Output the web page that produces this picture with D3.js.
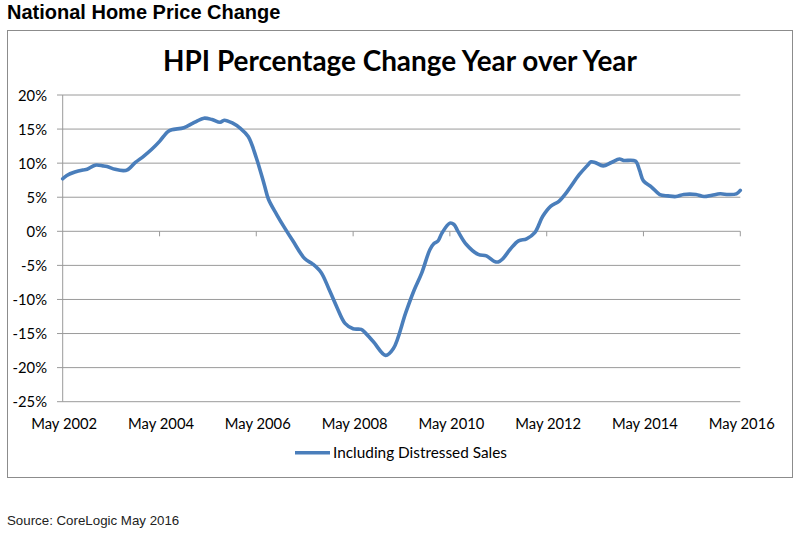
<!DOCTYPE html>
<html><head><meta charset="utf-8">
<script src="https://cdn.jsdelivr.net/npm/d3@7"></script>
<style>body{margin:0;background:#fff}svg{display:block}</style>
</head><body>
<svg id="c" width="801" height="534"></svg>
<script>
// months since May 2002
const monthOffsets = [0,1,3,5,6,8,10,11,13,15,16,18,20,22,24,26,27,30,32,33,35,37,39,40,42,44,46,48,50,51,53,55,57,60,62,64,66,68,70,72,74,75,77,80,82,85,87,89,91,92,93,94,96,97,98,100,103,105,107,108,109,111,113,115,117,119,121,123,125,128,130,131,132,134,136,138,139,142,143,144,146,148,150,152,154,157,159,161,163,165,167,168];
const hpiValues = [7.7,8.2,8.7,9.0,9.1,9.7,9.6,9.5,9.1,8.9,9.0,10.1,11.0,12.0,13.2,14.6,14.9,15.2,15.8,16.1,16.6,16.4,16.0,16.3,15.9,15.1,13.9,10.8,6.8,4.7,2.5,0.5,-1.4,-4.0,-4.8,-6.0,-8.5,-11.2,-13.5,-14.3,-14.4,-14.9,-16.2,-18.2,-17.2,-12.0,-8.8,-6.1,-2.7,-1.8,-1.4,-0.3,1.2,1.0,0.0,-1.9,-3.4,-3.6,-4.4,-4.5,-4.1,-2.6,-1.4,-1.1,-0.2,2.2,3.7,4.4,5.8,8.3,9.6,10.2,10.1,9.6,10.1,10.6,10.4,10.3,9.0,7.4,6.5,5.4,5.2,5.1,5.4,5.4,5.1,5.3,5.5,5.4,5.5,6.0];
const yTickValues = [-25,-20,-15,-10,-5,0,5,10,15,20];
const xTickYears = [2002,2004,2006,2008,2010,2012,2014,2016];
const pageTitle = "National Home Price Change";
const chartTitle = "HPI Percentage Change Year over Year";
const seriesName = "Including Distressed Sales";
const sourceNote = "Source: CoreLogic May 2016";

const data = monthOffsets.map((m,i)=>({date:new Date(2002,4+m,1), v:hpiValues[i]}));
const svg = d3.select("#c");
const calibri = "Lato, 'Open Sans', sans-serif";
const arial = "'Liberation Sans', Arial, sans-serif";

function fit(sel, target){
  const w = sel.node().getComputedTextLength();
  const fs = parseFloat(sel.attr("font-size"));
  sel.attr("font-size", (fs*target/w).toFixed(2));
}

// page title
svg.append("text").attr("x",7).attr("y",18.5).attr("font-family",arial)
  .attr("font-weight","bold").attr("font-size",20).attr("fill","#000").text(pageTitle);

// chart border
svg.append("rect").attr("x",7.5).attr("y",30.5).attr("width",785).attr("height",447)
  .attr("fill","#fff").attr("stroke","#8c8c8c").attr("stroke-width",1);

// chart title
const ct = svg.append("text").attr("x",400).attr("y",71).attr("text-anchor","middle")
  .attr("font-family",calibri).attr("font-weight","bold").attr("font-size",24).attr("fill","#000").text(chartTitle);
fit(ct,474);

const x = d3.scaleTime().domain([new Date(2002,4,1), new Date(2016,4,1)]).range([62.7,740.3]);
const y = d3.scaleLinear().domain([-25,20]).range([401.7,95]);

// gridlines
svg.append("g").selectAll("line").data(yTickValues).join("line")
  .attr("x1",57).attr("x2",740.3).attr("y1",d=>y(d)).attr("y2",d=>y(d))
  .attr("stroke","#9a9a9a").attr("stroke-width",1);

// y axis line
svg.append("line").attr("x1",62.7).attr("x2",62.7).attr("y1",y(20)).attr("y2",y(-25))
  .attr("stroke","#9a9a9a").attr("stroke-width",1);

// y labels
const fmtPct = d => (d<0?"-":"") + Math.abs(d) + "%";
const yl = svg.append("g").selectAll("text").data(yTickValues).join("text")
  .attr("x",47).attr("y",d=>y(d)+5.5).attr("text-anchor","end")
  .attr("font-family",calibri).attr("font-size",15).attr("fill","#000").text(fmtPct);

// x ticks at zero line
const xTickDates = xTickYears.map(yr=>new Date(yr,4,1));
svg.append("g").selectAll("line").data(xTickDates.slice(1)).join("line")
  .attr("x1",d=>x(d)).attr("x2",d=>x(d)).attr("y1",y(0)).attr("y2",y(0)+5)
  .attr("stroke","#9a9a9a").attr("stroke-width",1);

// x labels
const fmtDate = d3.timeFormat("%b %Y");
const xl = svg.append("g").selectAll("text").data(xTickDates).join("text")
  .attr("x",d=>x(d)+1.5).attr("y",429).attr("text-anchor","middle")
  .attr("font-family",calibri).attr("font-size",15).attr("fill","#000").text(fmtDate);
{
  const w = xl.nodes()[0].getComputedTextLength();
  const fs = 15*66/w;
  xl.attr("font-size",fs.toFixed(2));
  yl.attr("font-size",fs.toFixed(2));
}

// series line
const line = d3.line().x(d=>x(d.date)).y(d=>y(d.v)).curve(d3.curveCatmullRom.alpha(0.5));
svg.append("path").datum(data).attr("d",line).attr("fill","none")
  .attr("stroke","#4a7ebb").attr("stroke-width",3.6).attr("stroke-linejoin","round").attr("stroke-linecap","round");

// legend
svg.append("line").attr("x1",295).attr("x2",330).attr("y1",452.7).attr("y2",452.7)
  .attr("stroke","#4a7ebb").attr("stroke-width",3.6);
const lt = svg.append("text").attr("x",333).attr("y",457.5).attr("font-family",calibri)
  .attr("font-size",15).attr("fill","#000").text(seriesName);
fit(lt,174);

// source
svg.append("text").attr("x",7).attr("y",525).attr("font-family",arial)
  .attr("font-size",13.3).attr("fill","#222").text(sourceNote);
</script>
</body></html>
